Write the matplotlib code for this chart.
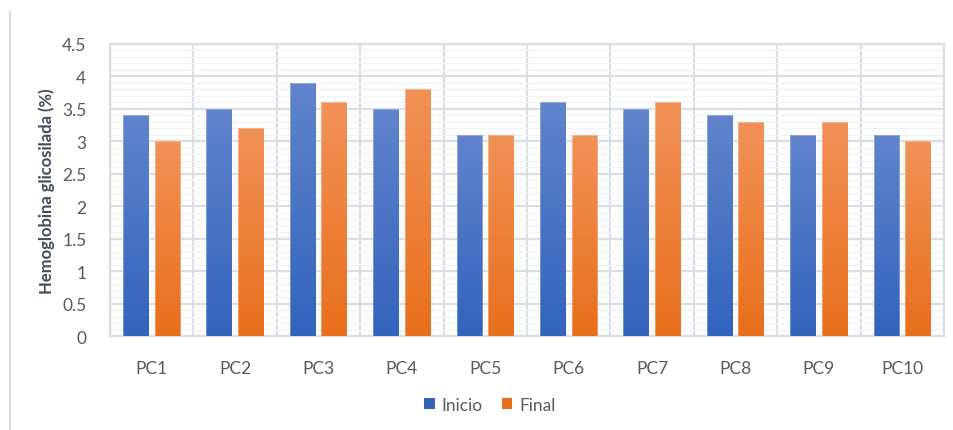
import numpy as np
import matplotlib
matplotlib.use("Agg")
import matplotlib.pyplot as plt
from matplotlib.colors import LinearSegmentedColormap
from matplotlib.lines import Line2D
from matplotlib.patches import Patch

# Data
categories = ["PC1", "PC2", "PC3", "PC4", "PC5", "PC6", "PC7", "PC8", "PC9", "PC10"]
inicio = [3.4, 3.5, 3.9, 3.5, 3.1, 3.6, 3.5, 3.4, 3.1, 3.1]
final = [3.0, 3.2, 3.6, 3.8, 3.1, 3.1, 3.6, 3.3, 3.3, 3.0]
series_names = ["Inicio", "Final"]
ylabel = "Hemoglobina glicosilada (%)"

# gradient colours (top -> bottom) for each series
blue_top, blue_bottom = "#6184CC", "#3263BD"
orange_top, orange_bottom = "#F29258", "#E86F1C"
text_color = "#595959"
grid_major = "#D9DEE6"
grid_minor = "#F2F3F5"

plt.rcParams["font.family"] = ["Lato", "DejaVu Sans"]

fig = plt.figure(figsize=(9.54, 4.31), dpi=100)
ax = fig.add_axes([110 / 954, 1 - 337 / 431, (944 - 110) / 954, (337 - 45) / 431])

x = np.arange(len(categories))
bar_width = 0.31
offset = 0.19


def gradient_bars(xpos, values, top, bottom):
    bars = ax.bar(xpos, values, bar_width, color=bottom, edgecolor="none", zorder=3)
    cmap = LinearSegmentedColormap.from_list("g", [bottom, top])
    grad = np.linspace(0, 1, 256).reshape(-1, 1)
    for b in bars:
        bx, by = b.get_x(), b.get_y()
        w, h = b.get_width(), b.get_height()
        im = ax.imshow(grad, cmap=cmap, origin="lower", aspect="auto",
                       extent=[bx, bx + w, by, by + h], zorder=3.5,
                       interpolation="bilinear")
        im.set_clip_path(b)
        # faint light edge like the original rendering
        ax.bar(bx + w / 2, h, w, fill=False, edgecolor="white", linewidth=0.6,
               alpha=0.35, zorder=4)
    return bars


gradient_bars(x - offset, inicio, blue_top, blue_bottom)
gradient_bars(x + offset, final, orange_top, orange_bottom)

ax.set_xlim(-0.5, len(categories) - 0.5)
ax.set_ylim(0, 4.5)

# gridlines
ax.set_yticks(np.arange(0, 4.51, 0.5))
ax.set_yticklabels([f"{v:g}" for v in np.arange(0, 4.51, 0.5)])
ax.set_yticks(np.arange(0, 4.51, 0.1), minor=True)
ax.grid(axis="y", which="major", color=grid_major, linewidth=1.6, zorder=1)
ax.grid(axis="y", which="minor", color=grid_minor, linewidth=1.0, zorder=0.5)
for b in np.arange(-0.5, len(categories), 1.0):
    ax.axvline(b, color=grid_major, linewidth=1.6, zorder=1)

ax.set_xticks(x)
ax.set_xticklabels(categories)
ax.tick_params(axis="both", which="both", length=0, colors=text_color, labelsize=12.5)
ax.tick_params(axis="x", pad=17)
ax.tick_params(axis="y", pad=17)
for s in ax.spines.values():
    s.set_color(grid_major)
    s.set_linewidth(1.6)

ax.set_ylabel(ylabel, fontsize=12, fontweight="bold", color="#404B5C", labelpad=5)

handles = [Patch(facecolor=blue_bottom, edgecolor="none"),
           Patch(facecolor=orange_bottom, edgecolor="none")]
fig.legend(handles, series_names, loc="center", bbox_to_anchor=(490 / 954, 1 - 406 / 431),
           ncol=2, frameon=False, fontsize=12.5, handlelength=0.6, handleheight=0.6,
           handletextpad=0.4, columnspacing=1.1, labelcolor=text_color)

# outer chart frame (left edge visible in the crop)
fig.add_artist(Line2D([10 / 954, 10 / 954], [0, 1 - 13 / 431], transform=fig.transFigure,
                      color="#D9DDE3", linewidth=1.5))

fig.savefig("out.png", dpi=100)
